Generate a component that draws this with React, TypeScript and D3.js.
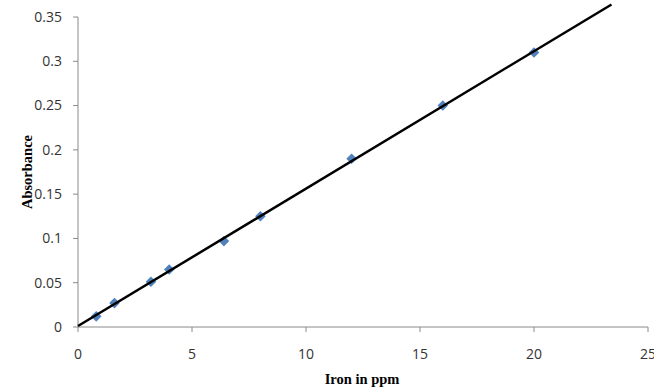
import React from 'react'
import * as d3 from 'd3'

// concentration of iron (ppm) and measured absorbance
const ironPpm = [0.8, 1.6, 3.2, 4, 6.4, 8, 12, 16, 20]
const absorbance = [0.012, 0.027, 0.051, 0.065, 0.097, 0.125, 0.19, 0.25, 0.31]
const xTicks = [0, 5, 10, 15, 20, 25]
const yTicks = [0, 0.05, 0.1, 0.15, 0.2, 0.25, 0.3, 0.35]
// fitted line end points (x values)
const fitRange = [0, 23.4]

const width = 654
const height = 389
const margin = {top: 17, right: 6, bottom: 62, left: 78}

export default function App() {
  const x = d3.scaleLinear().domain([0, 25]).range([margin.left, width - margin.right])
  const y = d3.scaleLinear().domain([0, 0.35]).range([height - margin.bottom, margin.top])

  // least squares fit through the points
  const mx = d3.mean(ironPpm) as number
  const my = d3.mean(absorbance) as number
  let sxy = 0
  let sxx = 0
  ironPpm.forEach((v, i) => {
    sxy += (v - mx) * (absorbance[i] - my)
    sxx += (v - mx) * (v - mx)
  })
  const slope = sxy / sxx
  const intercept = my - slope * mx

  const fitLine = d3
    .line<number>()
    .x(d => x(d))
    .y(d => y(intercept + slope * d))

  // square turned 45 degrees, like the Excel diamond marker
  const diamond = d3.symbol().type(d3.symbolSquare).size(56)

  const axisColor = '#8a8a8a'
  const tickFont = '"Open Sans", sans-serif'

  return (
    <svg
      width={width}
      height={height}
      style={{position: 'absolute', left: 0, top: 0, background: '#fff'}}
    >
      {/* y axis */}
      <line x1={x(0)} x2={x(0)} y1={y(0)} y2={y(0.35)} stroke={axisColor} />
      {yTicks.map(t => (
        <g key={t}>
          <line x1={x(0) - 5} x2={x(0)} y1={y(t)} y2={y(t)} stroke={axisColor} />
          <text
            x={x(0) - 16}
            y={y(t)}
            dy="0.35em"
            textAnchor="end"
            fontFamily={tickFont}
            fontSize={14}
            fill="#333"
          >
            {t}
          </text>
        </g>
      ))}

      {/* x axis */}
      <line x1={x(0)} x2={x(25)} y1={y(0)} y2={y(0)} stroke={axisColor} />
      {xTicks.map(t => (
        <g key={t}>
          <line x1={x(t)} x2={x(t)} y1={y(0)} y2={y(0) + 5} stroke={axisColor} />
          <text
            x={x(t)}
            y={y(0) + 27}
            dy="0.35em"
            textAnchor="middle"
            fontFamily={tickFont}
            fontSize={14}
            fill="#333"
          >
            {t}
          </text>
        </g>
      ))}

      {/* data points */}
      {ironPpm.map((v, i) => (
        <path
          key={v}
          d={diamond() as string}
          transform={`translate(${x(v)},${y(absorbance[i])}) rotate(45)`}
          fill="#4f81bd"
        />
      ))}

      {/* trend line */}
      <path d={fitLine(fitRange) as string} stroke="#000" strokeWidth={2.5} fill="none" />

      {/* titles */}
      <text
        x={362}
        y={384}
        textAnchor="middle"
        fontFamily='"Liberation Serif", serif'
        fontWeight="bold"
        fontSize={14.5}
      >
        Iron in ppm
      </text>
      <text
        transform="translate(32,172) rotate(-90)"
        textAnchor="middle"
        fontFamily='"Liberation Serif", serif'
        fontWeight="bold"
        fontSize={14.5}
      >
        Absorbance
      </text>
    </svg>
  )
}
